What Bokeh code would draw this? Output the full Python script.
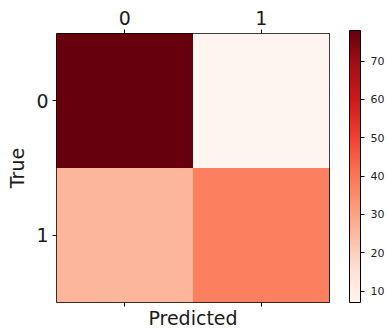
from bokeh.plotting import figure
from bokeh.models import (Range1d, LinearAxis, FixedTicker, LinearColorMapper,
                          ColorBar, ColumnDataSource)
from bokeh.palettes import Reds256
from bokeh.embed import file_html
from bokeh.resources import INLINE

classes = ["0", "1"]
true_idx = [0, 0, 1, 1]
pred_idx = [0, 1, 0, 1]
counts = [78, 7, 26, 38]
cbar_ticks = [10, 20, 30, 40, 50, 60, 70]

FONT = "DejaVu Sans"
TXT = "#1a1a1a"

p = figure(width=388, height=331, output_backend="svg", toolbar_location=None,
           x_range=Range1d(-0.5, 1.5), y_range=Range1d(1.5, -0.5),
           x_axis_location="below", y_axis_location="left",
           min_border_left=56, min_border_top=33, min_border_right=59,
           min_border_bottom=26)
p.grid.visible = False
p.outline_line_color = "black"
p.outline_line_width = 1
p.background_fill_color = "white"
p.border_fill_color = "white"

mapper = LinearColorMapper(palette=list(reversed(Reds256)), low=min(counts), high=max(counts))
src = ColumnDataSource(dict(x=pred_idx, y=true_idx, v=counts))
p.rect(x="x", y="y", width=1, height=1, source=src,
       fill_color={"field": "v", "transform": mapper}, line_color=None)

ticks = FixedTicker(ticks=[0, 1])
overrides = {0: classes[0], 1: classes[1]}

# bottom axis: ticks only + label
xa = p.xaxis[0]
xa.ticker = ticks
xa.major_label_overrides = {0: "", 1: ""}
xa.axis_label = "Predicted"
xa.axis_label_text_font = FONT
xa.axis_label_text_font_size = "19px"
xa.axis_label_text_font_style = "normal"
xa.axis_label_text_color = TXT
xa.axis_label_standoff = 0
xa.major_label_text_font_size = "1px"
xa.major_label_standoff = 0
xa.major_tick_out = 4
xa.major_tick_in = 0
xa.major_tick_line_color = "black"
xa.minor_tick_line_color = None
xa.axis_line_color = None

# top axis with labels
ta = LinearAxis(ticker=ticks, major_label_overrides=overrides)
ta.major_label_text_font = FONT
ta.major_label_text_font_size = "19px"
ta.major_label_text_color = TXT
ta.major_label_standoff = 5
ta.major_tick_out = 4
ta.major_tick_in = 0
ta.major_tick_line_color = "black"
ta.minor_tick_line_color = None
ta.axis_line_color = None
p.add_layout(ta, "above")

ya = p.yaxis[0]
ya.ticker = ticks
ya.major_label_overrides = overrides
ya.major_label_text_font = FONT
ya.major_label_text_font_size = "19px"
ya.major_label_text_color = TXT
ya.major_label_standoff = 4
ya.major_tick_out = 4
ya.major_tick_in = 0
ya.major_tick_line_color = "black"
ya.minor_tick_line_color = None
ya.axis_line_color = None
ya.axis_label = "True"
ya.axis_label_text_font = FONT
ya.axis_label_text_font_size = "19px"
ya.axis_label_text_font_style = "normal"
ya.axis_label_text_color = TXT
ya.axis_label_standoff = 5

cb = ColorBar(color_mapper=mapper, ticker=FixedTicker(ticks=cbar_ticks),
              width=11, height=272, padding=0, margin=0,
              location=(20, 0),
              bar_line_color="black", bar_line_width=1,
              border_line_color=None, background_fill_color=None,
              major_tick_in=0, major_tick_out=4, major_tick_line_color="black",
              major_label_text_font=FONT, major_label_text_font_size="11px",
              major_label_text_color="#222222", label_standoff=6)
p.add_layout(cb, "right")

open("out.html", "w").write(file_html(p, INLINE))
